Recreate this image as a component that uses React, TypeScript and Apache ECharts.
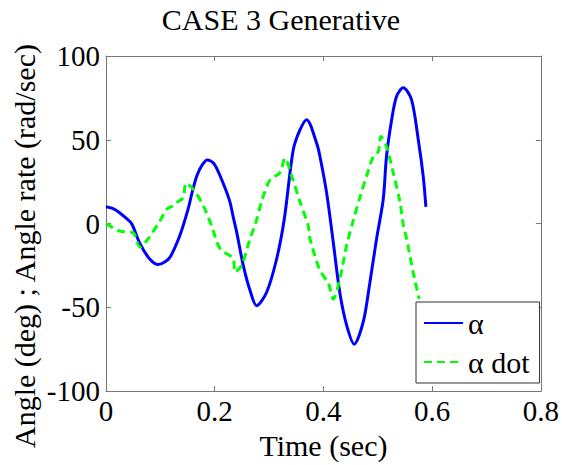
import React, { useEffect, useRef } from "react";
import * as echarts from "echarts";

const titleText = "CASE 3 Generative";
const xName = "Time (sec)";
const yName = "Angle (deg) ; Angle rate (rad/sec)";
const seriesNames = ["α", "α dot"];

const alphaT = [0, 0.012, 0.025, 0.036, 0.047, 0.0625, 0.08, 0.096, 0.108, 0.118, 0.136, 0.151, 0.158, 0.167, 0.177, 0.1864, 0.198, 0.21, 0.227, 0.234, 0.2403, 0.2525, 0.265, 0.2771, 0.2955, 0.314, 0.328, 0.3445, 0.357, 0.369, 0.3875, 0.3936, 0.406, 0.418, 0.43, 0.4426, 0.4566, 0.4733, 0.4855, 0.4978, 0.51, 0.516, 0.5255, 0.5346, 0.5468, 0.562, 0.5745, 0.5836, 0.5885];
const alphaV = [10, 9, 6.5, 3.5, 0, -12, -21, -24.5, -23, -20, -7, 8.6, 18, 28.4, 35, 38, 36, 28.4, 14, 4, -5, -25, -40, -49, -41, -21, 2.7, 44, 56, 62, 48, 40, 18, -11, -41, -60.6, -72, -58.6, -35, -9, 14.5, 40, 62, 76, 81, 74, 50, 28, 10];

const dotT = [0, 0.0257, 0.05, 0.0625, 0.0778, 0.0993, 0.1116, 0.12, 0.13, 0.142, 0.1471, 0.1606, 0.179, 0.1943, 0.2097, 0.234, 0.2372, 0.2495, 0.265, 0.275, 0.288, 0.3016, 0.32, 0.3292, 0.3415, 0.3568, 0.372, 0.3752, 0.3936, 0.409, 0.418, 0.4303, 0.4426, 0.455, 0.467, 0.4794, 0.4917, 0.5009, 0.5058, 0.516, 0.5283, 0.5407, 0.547, 0.553, 0.565, 0.576];
const dotV = [0, -4.5, -5.5, -14, -9, 1.7, 8.6, 10, 12.6, 15.5, 24, 20.5, 10.6, -1.3, -15, -21, -29, -25, -9, 0, 15, 26, 30.4, 39, 28.4, 13, -1.3, -9, -28, -35.5, -45, -33, -13, 2, 15.5, 28.4, 40, 43, 52, 46, 30.4, 13, -1, -9, -29, -45];

const xTicks = { min: 0, max: 0.8, interval: 0.2 };
const yTicks = { min: -100, max: 100, interval: 50 };

const FONT = "Liberation Serif";

export default function App() {
  const ref = useRef<HTMLDivElement>(null);
  useEffect(() => {
    if (!ref.current) return;
    const el = ref.current;
    const chart = echarts.init(el, null, { renderer: "svg" });
    const axisColor = "#777";
    const pairs = (t: number[], v: number[]) => t.map((x, i) => [x, v[i]]);
    const plainText = {
      fontFamily: FONT,
      fontWeight: "normal" as const,
      fontStyle: "normal" as const,
      textBorderWidth: 0,
      textShadowBlur: 0,
      color: "#000",
    };
    const fixFonts = () => {
      el.querySelectorAll("text").forEach((t) => {
        const s = (t as SVGTextElement).style;
        s.fontFamily = `"${FONT}"`;
        s.fontWeight = "normal";
        s.fontStyle = "normal";
        t.removeAttribute("stroke");
        t.removeAttribute("stroke-width");
        t.removeAttribute("paint-order");
      });
    };
    chart.on("finished", fixFonts);
    chart.setOption({
      animation: false,
      backgroundColor: "#fff",
      title: {
        text: titleText,
        left: "center",
        top: 4,
        padding: 0,
        textStyle: { ...plainText, fontSize: 30 },
      },
      grid: { left: 106, top: 56, right: 21, bottom: 72, containLabel: false },
      xAxis: [
        {
          type: "value",
          ...xTicks,
          name: xName,
          nameLocation: "middle",
          nameGap: 31,
          nameTextStyle: { ...plainText, fontSize: 30 },
          axisLine: { show: true, onZero: false, lineStyle: { color: axisColor, width: 1 } },
          axisTick: { show: true, inside: true, length: 5, lineStyle: { color: axisColor } },
          axisLabel: {
            ...plainText,
            fontSize: 29,
            margin: 5,
            formatter: (v: number) => (v === 0 ? "0" : v.toFixed(1)),
          },
          splitLine: { show: false },
        },
        {
          type: "value",
          ...xTicks,
          position: "top",
          axisLine: { show: true, onZero: false, lineStyle: { color: axisColor, width: 1 } },
          axisTick: { show: true, inside: true, length: 5, lineStyle: { color: axisColor } },
          axisLabel: { show: false },
          splitLine: { show: false },
        },
      ],
      yAxis: [
        {
          type: "value",
          ...yTicks,
          axisLine: { show: true, onZero: false, lineStyle: { color: axisColor, width: 1 } },
          axisTick: { show: true, inside: true, length: 5, lineStyle: { color: axisColor } },
          axisLabel: { ...plainText, fontSize: 29, margin: 6 },
          splitLine: { show: false },
        },
        {
          type: "value",
          ...yTicks,
          position: "right",
          axisLine: { show: true, onZero: false, lineStyle: { color: axisColor, width: 1 } },
          axisTick: { show: true, inside: true, length: 5, lineStyle: { color: axisColor } },
          axisLabel: { show: false },
          splitLine: { show: false },
        },
      ],
      legend: {
        orient: "vertical",
        left: 416,
        top: 302,
        padding: [6, 10, 6, 7],
        itemGap: 9,
        itemWidth: 39,
        itemHeight: 14,
        borderColor: "#333",
        borderWidth: 1,
        borderRadius: 0,
        backgroundColor: "#fff",
        itemStyle: { opacity: 0 },
        textStyle: { ...plainText, fontSize: 30 },
        data: seriesNames,
      },
      graphic: [
        {
          type: "text",
          x: 24,
          y: 246,
          rotation: Math.PI / 2,
          style: {
            text: yName,
            fontFamily: FONT,
            fontSize: 30,
            fill: "#000",
            textAlign: "center",
            textVerticalAlign: "middle",
          },
        },
      ],
      series: [
        {
          name: seriesNames[0],
          type: "line",
          xAxisIndex: 0,
          yAxisIndex: 0,
          data: pairs(alphaT, alphaV),
          smooth: 0.3,
          symbol: "none",
          showSymbol: false,
          lineStyle: { color: "#0000ff", width: 3 },
          itemStyle: { color: "#0000ff" },
        },
        {
          name: seriesNames[1],
          type: "line",
          xAxisIndex: 0,
          yAxisIndex: 0,
          data: pairs(dotT, dotV),
          smooth: 0.3,
          symbol: "none",
          showSymbol: false,
          lineStyle: { color: "#00ff00", width: 3, type: [8, 5] },
          itemStyle: { color: "#00ff00" },
        },
      ],
    });
    fixFonts();
    const timer = setTimeout(fixFonts, 30);
    return () => {
      clearTimeout(timer);
      chart.dispose();
    };
  }, []);
  return (
    <div
      ref={ref}
      style={{ position: "fixed", left: 0, top: 0, width: 562, height: 465, background: "#fff" }}
    />
  );
}
